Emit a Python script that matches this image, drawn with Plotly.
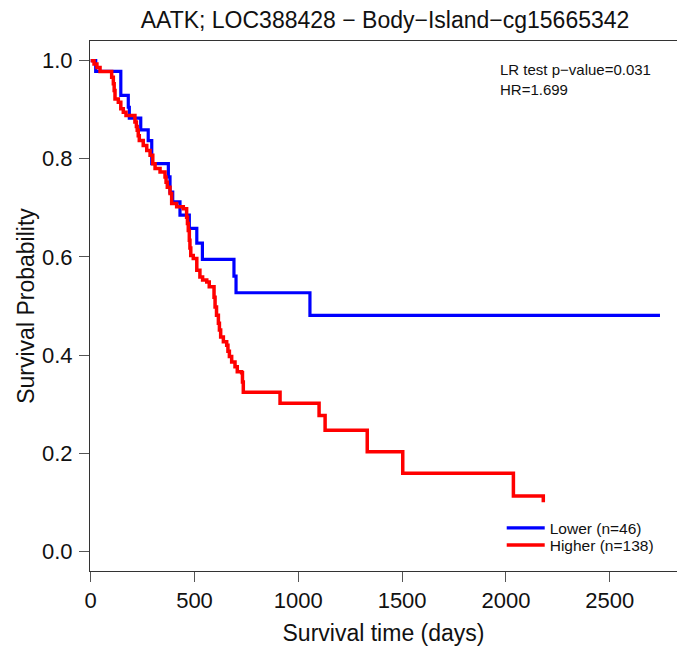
import plotly.graph_objects as go

# Kaplan-Meier step data
times_low = [0, 24, 145, 181, 186, 241, 277, 294, 374, 382, 395, 430, 475, 511, 538, 690, 700, 1056, 2742]
surv_low = [1.0, 0.978, 0.929, 0.905, 0.883, 0.859, 0.837, 0.790, 0.763, 0.732, 0.712, 0.685, 0.658,
            0.628, 0.595, 0.561, 0.527, 0.481, 0.481]

times_high = [0, 16, 30, 45, 101, 109, 113, 117, 133, 145,
              157, 170, 213, 220, 224, 229, 234, 253, 270, 286,
              299, 310, 334, 358, 363, 369, 382, 390, 414, 446,
              462, 466, 470, 475, 478, 482, 494, 511, 526, 539,
              559, 571, 594, 599, 606, 615, 620, 626, 639, 655,
              661, 668, 679, 695, 706, 727, 731, 735, 912, 1100,
              1129, 1332, 1503, 2036, 2180]
surv_high = [1.0, 0.993, 0.986, 0.978, 0.966, 0.953, 0.939, 0.922, 0.915, 0.902,
             0.895, 0.888, 0.875, 0.866, 0.858, 0.847, 0.837, 0.827, 0.817, 0.807,
             0.790, 0.780, 0.773, 0.763, 0.752, 0.742, 0.729, 0.709, 0.702, 0.698,
             0.681, 0.668, 0.654, 0.634, 0.618, 0.603, 0.597, 0.573, 0.559, 0.553,
             0.549, 0.539, 0.518, 0.498, 0.481, 0.465, 0.451, 0.437, 0.427, 0.420,
             0.408, 0.397, 0.386, 0.376, 0.366, 0.364, 0.345, 0.324, 0.302, 0.277,
             0.247, 0.203, 0.159, 0.113, 0.100]

labels = ["Lower (n=46)", "Higher (n=138)"]
title_text = "AATK; LOC388428 \u2212 Body\u2212Island\u2212cg15665342"
stats_lines = ["LR test p\u2212value=0.031", "HR=1.699"]
x_ticks = [0, 500, 1000, 1500, 2000, 2500]
y_ticks = [0.0, 0.2, 0.4, 0.6, 0.8, 1.0]

FONT = "Liberation Sans, Arial, sans-serif"
TXT = "#111111"

fig = go.Figure()
fig.add_trace(go.Scatter(x=times_low, y=surv_low, mode="lines", line_shape="hv",
                         line=dict(color="#0000FF", width=3.2), name=labels[0], legend="legend"))
fig.add_trace(go.Scatter(x=times_high, y=surv_high, mode="lines", line_shape="hv",
                         line=dict(color="#FF0000", width=3.5), name=labels[1], legend="legend2"))

leg_common = dict(x=0.7014, xanchor="left", yanchor="top", itemwidth=38,
                  font=dict(size=15.5, family=FONT, color=TXT),
                  bgcolor="rgba(0,0,0,0)", borderwidth=0)

fig.update_layout(
    width=677, height=647,
    margin=dict(l=90, r=0, t=41, b=76),
    paper_bgcolor="white", plot_bgcolor="white",
    font=dict(family=FONT, color=TXT),
    title=dict(text=title_text, x=385 / 677, xanchor="center", xref="container",
               y=1 - 20 / 647, yanchor="middle", yref="container",
               font=dict(size=23, family=FONT, color=TXT)),
    showlegend=True,
    legend=dict(y=0.1128, **leg_common),
    legend2=dict(y=0.0802, **leg_common),
    xaxis=dict(range=[-3.4, 2824], tickvals=x_ticks, ticktext=[str(v) for v in x_ticks],
               showgrid=False, zeroline=False, showline=True, mirror=True,
               linecolor="#333333", linewidth=1,
               ticks="outside", ticklen=10, tickcolor="#555555", tickwidth=1,
               tickfont=dict(size=22, family=FONT, color=TXT),
               title=dict(text="Survival time (days)", font=dict(size=23, family=FONT, color=TXT),
                          standoff=12)),
    yaxis=dict(range=[-0.04, 1.04], tickvals=y_ticks, ticktext=[f"{v:.1f}" for v in y_ticks],
               showgrid=False, zeroline=False, showline=True, mirror=False,
               linecolor="#333333", linewidth=1,
               ticks="outside", ticklen=10, tickcolor="#555555", tickwidth=1,
               ticklabelstandoff=2,
               tickfont=dict(size=22, family=FONT, color=TXT),
               title=dict(text="Survival Probability", font=dict(size=23, family=FONT, color=TXT),
                          standoff=0)),
)

fig.add_annotation(text=stats_lines[0], xref="paper", yref="paper",
                   x=(498 - 90) / 587, y=(571 - 69) / 530, xanchor="left", yanchor="middle",
                   showarrow=False, font=dict(size=15, family=FONT, color=TXT))
fig.add_annotation(text=stats_lines[1], xref="paper", yref="paper",
                   x=(498 - 90) / 587, y=(571 - 90) / 530, xanchor="left", yanchor="middle",
                   showarrow=False, font=dict(size=15, family=FONT, color=TXT))

fig.write_html("out.html")
